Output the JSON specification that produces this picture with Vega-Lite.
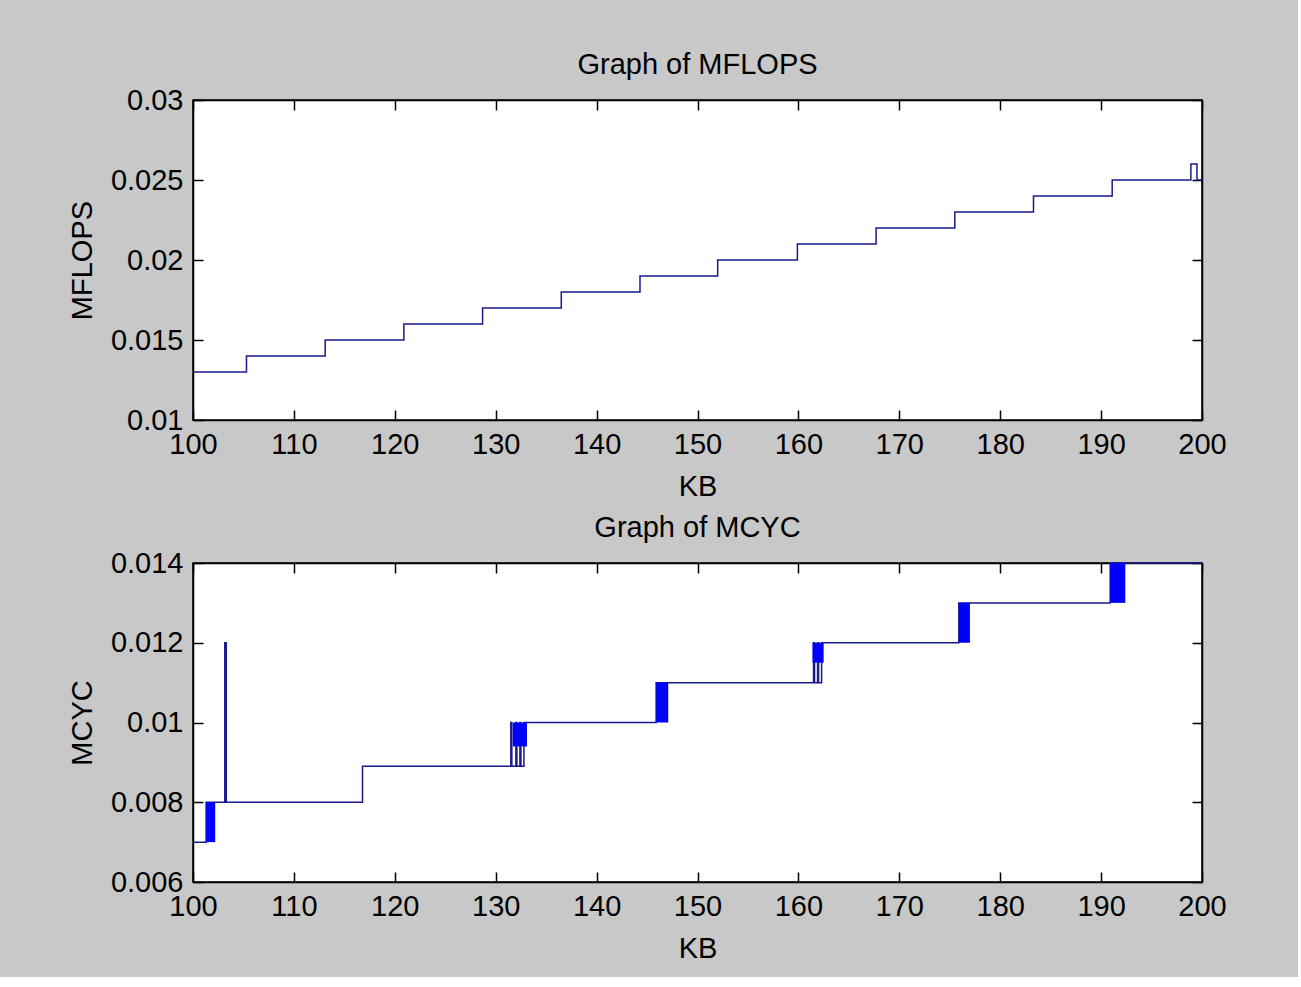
{
  "$schema": "https://vega.github.io/schema/vega-lite/v6.json",
  "background": "#c8c8c8",
  "padding": {"left": 67, "top": 50, "right": 71, "bottom": 13},
  "config": {
    "font": "Liberation Sans",
    "view": {"stroke": "#000000", "strokeWidth": 1.5, "fill": "#ffffff"},
    "axis": {
      "labelFont": "Liberation Sans", "titleFont": "Liberation Sans",
      "labelFontSize": 29, "titleFontSize": 29, "titleFontWeight": "normal",
      "labelColor": "#000000", "titleColor": "#000000", "tickColor": "#000000", "domainColor": "#000000",
      "tickSize": -10, "domainWidth": 1.5, "tickWidth": 1.5, "grid": false,
      "labelFlush": false, "labelOverlap": false, "labelPadding": 20, "titlePadding": 13
    },
    "title": {"font": "Liberation Sans", "fontSize": 29, "fontWeight": "normal", "color": "#000000", "offset": 6},
    "concat": {"spacing": 11}
  },
  "datasets": {
    "mflops": [
      {"KB": 100, "MFLOPS": 0.013},
      {"KB": 105.3, "MFLOPS": 0.014},
      {"KB": 113.1, "MFLOPS": 0.015},
      {"KB": 120.9, "MFLOPS": 0.016},
      {"KB": 128.7, "MFLOPS": 0.017},
      {"KB": 136.5, "MFLOPS": 0.018},
      {"KB": 144.3, "MFLOPS": 0.019},
      {"KB": 152.0, "MFLOPS": 0.020},
      {"KB": 159.9, "MFLOPS": 0.021},
      {"KB": 167.7, "MFLOPS": 0.022},
      {"KB": 175.5, "MFLOPS": 0.023},
      {"KB": 183.3, "MFLOPS": 0.024},
      {"KB": 191.1, "MFLOPS": 0.025},
      {"KB": 198.9, "MFLOPS": 0.026},
      {"KB": 199.5, "MFLOPS": 0.025},
      {"KB": 200, "MFLOPS": 0.025}
    ],
    "mcyc": [
      {"KB": 100, "MCYC": 0.007},
      {"KB": 101.3, "MCYC": 0.008},
      {"KB": 103.15, "MCYC": 0.012},
      {"KB": 103.3, "MCYC": 0.008},
      {"KB": 116.8, "MCYC": 0.0089},
      {"KB": 131.5, "MCYC": 0.01},
      {"KB": 131.6, "MCYC": 0.0089},
      {"KB": 132.0, "MCYC": 0.01},
      {"KB": 132.1, "MCYC": 0.0089},
      {"KB": 132.4, "MCYC": 0.01},
      {"KB": 132.5, "MCYC": 0.0089},
      {"KB": 132.8, "MCYC": 0.01},
      {"KB": 145.9, "MCYC": 0.011},
      {"KB": 161.5, "MCYC": 0.012},
      {"KB": 161.6, "MCYC": 0.011},
      {"KB": 161.9, "MCYC": 0.012},
      {"KB": 162.0, "MCYC": 0.011},
      {"KB": 162.3, "MCYC": 0.012},
      {"KB": 175.9, "MCYC": 0.013},
      {"KB": 190.9, "MCYC": 0.014},
      {"KB": 200, "MCYC": 0.014}
    ],
    "blocks": [
      {"x1": 101.3, "x2": 102.2, "y1": 0.007, "y2": 0.008},
      {"x1": 131.7, "x2": 133.1, "y1": 0.0094, "y2": 0.01},
      {"x1": 145.9, "x2": 147.1, "y1": 0.01, "y2": 0.011},
      {"x1": 161.4, "x2": 162.5, "y1": 0.0115, "y2": 0.012},
      {"x1": 175.9, "x2": 177.0, "y1": 0.012, "y2": 0.013},
      {"x1": 190.9, "x2": 192.4, "y1": 0.013, "y2": 0.014}
    ]
  },
  "vconcat": [
    {
      "width": 1009,
      "height": 320,
      "title": "Graph of MFLOPS",
      "layer": [
        {
          "data": {"name": "mflops"},
          "mark": {"type": "line", "interpolate": "step-after", "color": "#1a1a8c", "strokeWidth": 1.5},
          "encoding": {
            "x": {"field": "KB", "type": "quantitative",
                  "scale": {"domain": [100, 200], "nice": false, "zero": false},
                  "axis": {"title": "KB", "orient": "bottom", "values": [100, 110, 120, 130, 140, 150, 160, 170, 180, 190, 200], "format": "d"}},
            "y": {"field": "MFLOPS", "type": "quantitative",
                  "scale": {"domain": [0.01, 0.03], "nice": false, "zero": false},
                  "axis": {"title": "MFLOPS", "orient": "left", "values": [0.01, 0.015, 0.02, 0.025, 0.03], "format": "~g"}}
          }
        },
        {
          "data": {"name": "mflops"},
          "mark": {"type": "line", "interpolate": "step-after", "strokeOpacity": 0},
          "encoding": {
            "x": {"field": "KB", "type": "quantitative",
                  "axis": {"title": null, "orient": "top", "labels": false, "values": [100, 110, 120, 130, 140, 150, 160, 170, 180, 190, 200]}},
            "y": {"field": "MFLOPS", "type": "quantitative",
                  "axis": {"title": null, "orient": "right", "labels": false, "values": [0.01, 0.015, 0.02, 0.025, 0.03]}}
          }
        }
      ],
      "resolve": {"axis": {"x": "independent", "y": "independent"}}
    },
    {
      "width": 1009,
      "height": 319,
      "title": "Graph of MCYC",
      "layer": [
        {
          "data": {"name": "mcyc"},
          "mark": {"type": "line", "interpolate": "step-after", "color": "#1a1a8c", "strokeWidth": 1.5},
          "encoding": {
            "x": {"field": "KB", "type": "quantitative",
                  "scale": {"domain": [100, 200], "nice": false, "zero": false},
                  "axis": {"title": "KB", "orient": "bottom", "values": [100, 110, 120, 130, 140, 150, 160, 170, 180, 190, 200], "format": "d"}},
            "y": {"field": "MCYC", "type": "quantitative",
                  "scale": {"domain": [0.006, 0.014], "nice": false, "zero": false},
                  "axis": {"title": "MCYC", "orient": "left", "values": [0.006, 0.008, 0.01, 0.012, 0.014], "format": "~g"}}
          }
        },
        {
          "data": {"name": "blocks"},
          "mark": {"type": "rect", "color": "#0000ff"},
          "encoding": {
            "x": {"field": "x1", "type": "quantitative",
                  "axis": {"title": null, "orient": "top", "labels": false, "values": [100, 110, 120, 130, 140, 150, 160, 170, 180, 190, 200]}},
            "x2": {"field": "x2"},
            "y": {"field": "y1", "type": "quantitative",
                  "axis": {"title": null, "orient": "right", "labels": false, "values": [0.006, 0.008, 0.01, 0.012, 0.014]}},
            "y2": {"field": "y2"}
          }
        }
      ],
      "resolve": {"axis": {"x": "independent", "y": "independent"}}
    }
  ]
}
